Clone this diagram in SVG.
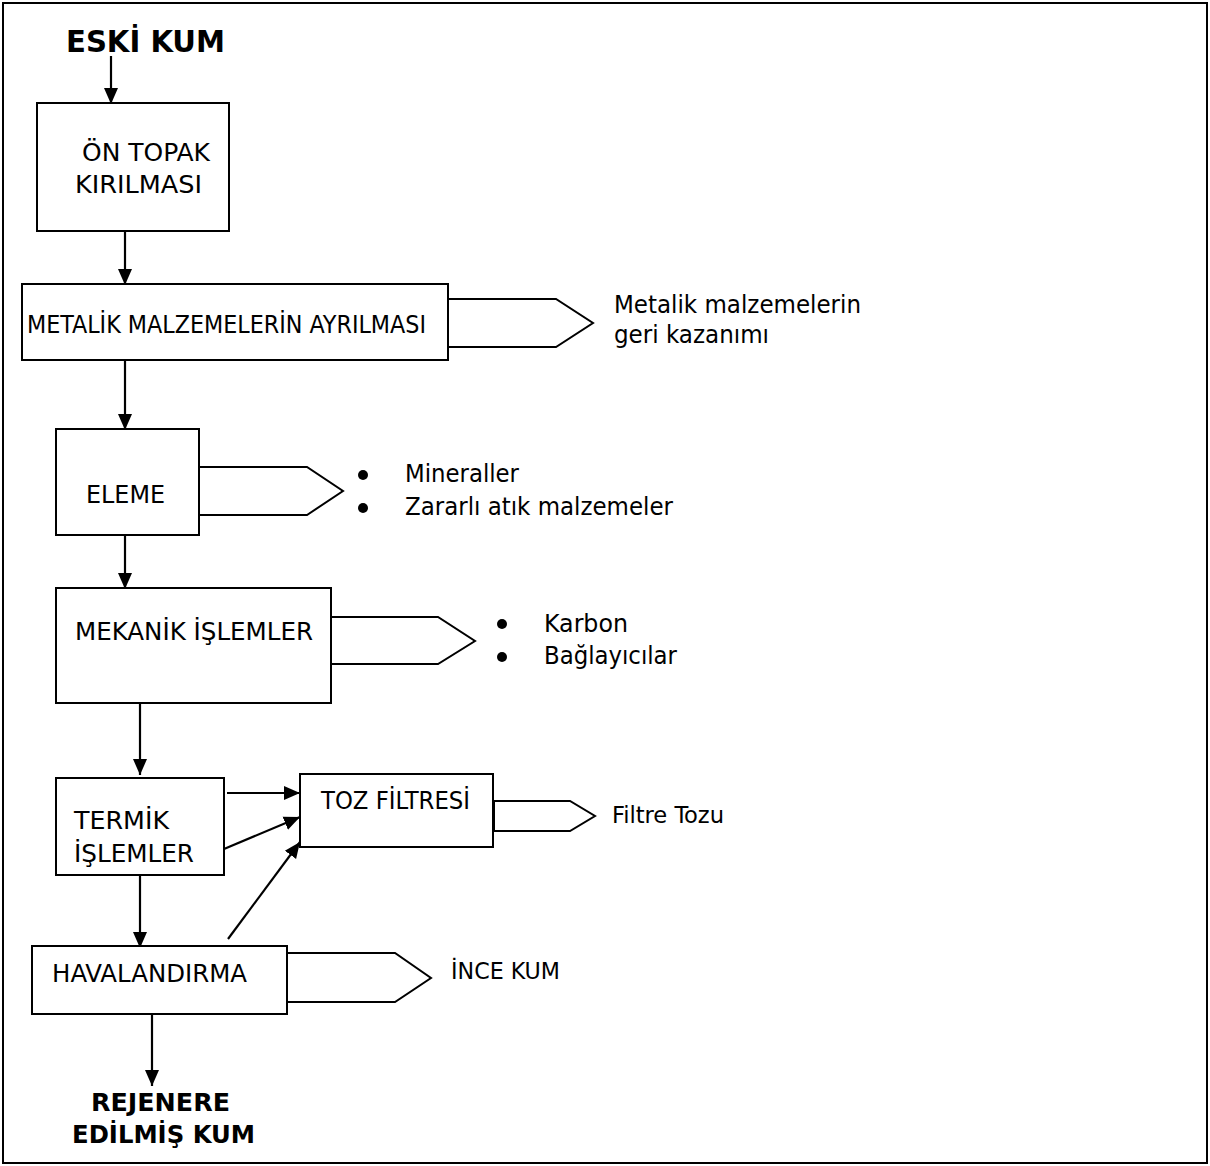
<svg xmlns="http://www.w3.org/2000/svg" width="1210" height="1166" viewBox="0 0 1210 1166">
<style>
.box{fill:#fff;stroke:#000;stroke-width:2}
.out{fill:#fff;stroke:#000;stroke-width:2;stroke-linejoin:miter}
.t{font-family:"DejaVu Sans Condensed","Liberation Sans",sans-serif;font-size:25px;fill:#000}
.s{font-family:"DejaVu Sans Condensed","Liberation Sans",sans-serif;font-size:23px;fill:#000}
.b{font-family:"DejaVu Sans Condensed","Liberation Sans",sans-serif;font-size:30px;font-weight:bold;fill:#000}
.b2{font-family:"DejaVu Sans Condensed","Liberation Sans",sans-serif;font-size:25px;font-weight:bold;fill:#000}
.c{stroke:#000;stroke-width:2.2;fill:none;marker-end:url(#ah)}
</style>
<defs>
<marker id="ah" markerUnits="userSpaceOnUse" markerWidth="18" markerHeight="18" viewBox="0 0 18 18" refX="16" refY="8" orient="auto">
<path d="M0,1 L16,8 L0,15 Z" fill="#000"/>
</marker>
</defs>
<rect x="3" y="3" width="1204" height="1160" fill="#fff" stroke="#000" stroke-width="2"/>
<g id="connectors">
<line class="c" x1="111" y1="56" x2="111" y2="104"/>
<line class="c" x1="125" y1="231" x2="125" y2="285"/>
<line class="c" x1="125" y1="360" x2="125" y2="430"/>
<line class="c" x1="125" y1="535" x2="125" y2="589"/>
<line class="c" x1="140" y1="703" x2="140" y2="775"/>
<line class="c" x1="227" y1="793" x2="300" y2="793"/>
<line class="c" x1="224" y1="849" x2="300" y2="817"/>
<line class="c" x1="228" y1="939" x2="300" y2="842"/>
<line class="c" x1="140" y1="875" x2="140" y2="948"/>
<line class="c" x1="152" y1="1014" x2="152" y2="1086"/>
</g>
<g id="eski-kum"><text class="b" x="66" y="52" textLength="159" lengthAdjust="spacingAndGlyphs">ESKİ KUM</text></g>
<g id="on-topak">
<rect class="box" x="37" y="103" width="192" height="128"/>
<text class="t" x="82" y="161" textLength="128" lengthAdjust="spacingAndGlyphs">ÖN TOPAK</text>
<text class="t" x="75" y="193" textLength="127" lengthAdjust="spacingAndGlyphs">KIRILMASI</text>
</g>
<g id="metalik">
<polygon class="out" points="448,299 556,299 593,323 556,347 448,347"/>
<rect class="box" x="22" y="284" width="426" height="76"/>
<text class="t" x="27" y="333" textLength="399" lengthAdjust="spacingAndGlyphs">METALİK MALZEMELERİN AYRILMASI</text>
</g>
<g id="metalik-out">
<text class="t" x="614" y="313" textLength="247" lengthAdjust="spacingAndGlyphs">Metalik malzemelerin</text>
<text class="t" x="614" y="343" textLength="155" lengthAdjust="spacingAndGlyphs">geri kazanımı</text>
</g>
<g id="eleme">
<polygon class="out" points="199,467 307,467 343,491 307,515 199,515"/>
<rect class="box" x="56" y="429" width="143" height="106"/>
<text class="t" x="86" y="503" textLength="79" lengthAdjust="spacingAndGlyphs">ELEME</text>
</g>
<g id="eleme-out">
<circle cx="363" cy="475" r="5"/>
<circle cx="363" cy="508" r="5"/>
<text class="t" x="405" y="482" textLength="114" lengthAdjust="spacingAndGlyphs">Mineraller</text>
<text class="t" x="405" y="515" textLength="268" lengthAdjust="spacingAndGlyphs">Zararlı atık malzemeler</text>
</g>
<g id="mekanik">
<polygon class="out" points="331,617 438,617 475,641 438,664 331,664"/>
<rect class="box" x="56" y="588" width="275" height="115"/>
<text class="t" x="75" y="640" textLength="238" lengthAdjust="spacingAndGlyphs">MEKANİK İŞLEMLER</text>
</g>
<g id="mekanik-out">
<circle cx="502" cy="624" r="5"/>
<circle cx="502" cy="657" r="5"/>
<text class="t" x="544" y="632" textLength="84" lengthAdjust="spacingAndGlyphs">Karbon</text>
<text class="t" x="544" y="664" textLength="133" lengthAdjust="spacingAndGlyphs">Bağlayıcılar</text>
</g>
<g id="termik">
<rect class="box" x="56" y="778" width="168" height="97"/>
<text class="t" x="74" y="829" textLength="95" lengthAdjust="spacingAndGlyphs">TERMİK</text>
<text class="t" x="74" y="862" textLength="120" lengthAdjust="spacingAndGlyphs">İŞLEMLER</text>
</g>
<g id="toz-filtresi">
<polygon class="out" points="494,801 570,801 595,816 570,831 494,831"/>
<rect class="box" x="300" y="774" width="193" height="73"/>
<text class="t" x="321" y="809" textLength="149" lengthAdjust="spacingAndGlyphs">TOZ FİLTRESİ</text>
</g>
<g id="filtre-tozu"><text class="s" x="612" y="823" textLength="112" lengthAdjust="spacingAndGlyphs">Filtre Tozu</text></g>
<g id="havalandirma">
<polygon class="out" points="287,953 395,953 431,978 395,1002 287,1002"/>
<rect class="box" x="32" y="946" width="255" height="68"/>
<text class="t" x="52" y="982" textLength="195" lengthAdjust="spacingAndGlyphs">HAVALANDIRMA</text>
</g>
<g id="ince-kum"><text class="s" x="451" y="979" textLength="109" lengthAdjust="spacingAndGlyphs">İNCE KUM</text></g>
<g id="rejenere">
<text class="b2" x="91" y="1111" textLength="139" lengthAdjust="spacingAndGlyphs">REJENERE</text>
<text class="b2" x="72" y="1143" textLength="183" lengthAdjust="spacingAndGlyphs">EDİLMİŞ KUM</text>
</g>
</svg>
